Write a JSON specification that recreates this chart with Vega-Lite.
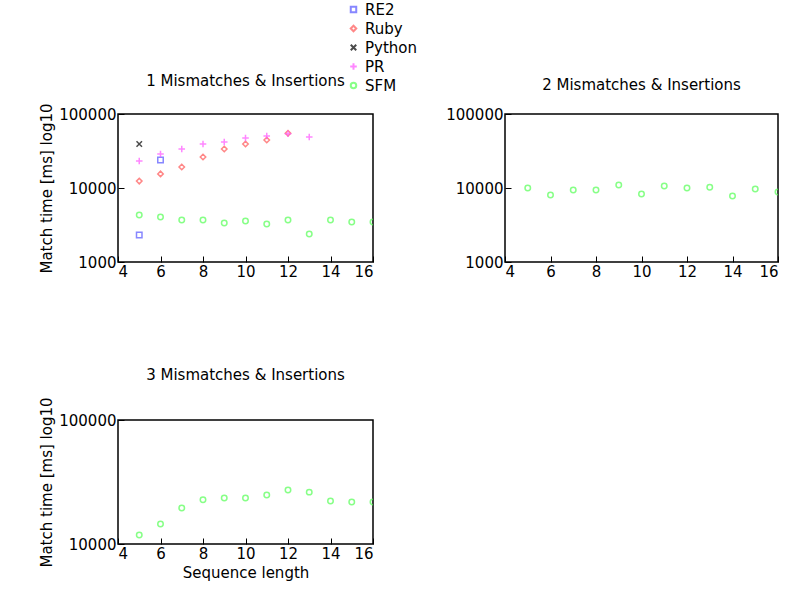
{
  "$schema": "https://vega.github.io/schema/vega-lite/v6.json",
  "background": "white",
  "padding": {"top": 2, "left": 38, "right": 5, "bottom": 5},
  "config": {
    "font": "DejaVu Sans",
    "view": {"stroke": "black", "strokeWidth": 1.5},
    "axis": {"grid": false, "labelFontSize": 15, "titleFontSize": 15, "titleFontWeight": "normal", "labelColor": "black", "titleColor": "black", "tickColor": "black", "domain": false, "tickSize": -6, "labelPadding": 8},
    "title": {"fontSize": 15, "fontWeight": "normal", "offset": 14},
    "legend": {"orient": "none", "legendX": 228, "legendY": -112, "labelFontSize": 15, "symbolSize": 30, "rowPadding": 3, "symbolStrokeWidth": 2, "labelColor": "black"}
  },
  "datasets": {
    "pts": [
      {"panel": 1, "tool": "RE2", "len": 5, "ms": 2320},
      {"panel": 1, "tool": "RE2", "len": 6, "ms": 23900},
      {"panel": 1, "tool": "Ruby", "len": 5, "ms": 12400},
      {"panel": 1, "tool": "Ruby", "len": 6, "ms": 15500},
      {"panel": 1, "tool": "Ruby", "len": 7, "ms": 19200},
      {"panel": 1, "tool": "Ruby", "len": 8, "ms": 26200},
      {"panel": 1, "tool": "Ruby", "len": 9, "ms": 33700},
      {"panel": 1, "tool": "Ruby", "len": 10, "ms": 39400},
      {"panel": 1, "tool": "Ruby", "len": 11, "ms": 44600},
      {"panel": 1, "tool": "Ruby", "len": 12, "ms": 55000},
      {"panel": 1, "tool": "Python", "len": 5, "ms": 39400},
      {"panel": 1, "tool": "PR", "len": 5, "ms": 23200},
      {"panel": 1, "tool": "PR", "len": 6, "ms": 28800},
      {"panel": 1, "tool": "PR", "len": 7, "ms": 33700},
      {"panel": 1, "tool": "PR", "len": 8, "ms": 39400},
      {"panel": 1, "tool": "PR", "len": 9, "ms": 41900},
      {"panel": 1, "tool": "PR", "len": 10, "ms": 47500},
      {"panel": 1, "tool": "PR", "len": 11, "ms": 50400},
      {"panel": 1, "tool": "PR", "len": 12, "ms": 54000},
      {"panel": 1, "tool": "PR", "len": 13, "ms": 48800},
      {"panel": 1, "tool": "SFM", "len": 5, "ms": 4320},
      {"panel": 1, "tool": "SFM", "len": 6, "ms": 4060},
      {"panel": 1, "tool": "SFM", "len": 7, "ms": 3700},
      {"panel": 1, "tool": "SFM", "len": 8, "ms": 3700},
      {"panel": 1, "tool": "SFM", "len": 9, "ms": 3370},
      {"panel": 1, "tool": "SFM", "len": 10, "ms": 3580},
      {"panel": 1, "tool": "SFM", "len": 11, "ms": 3260},
      {"panel": 1, "tool": "SFM", "len": 12, "ms": 3700},
      {"panel": 1, "tool": "SFM", "len": 13, "ms": 2390},
      {"panel": 1, "tool": "SFM", "len": 14, "ms": 3700},
      {"panel": 1, "tool": "SFM", "len": 15, "ms": 3470},
      {"panel": 1, "tool": "SFM", "len": 16, "ms": 3470},
      {"panel": 2, "tool": "SFM", "len": 5, "ms": 10000},
      {"panel": 2, "tool": "SFM", "len": 6, "ms": 8040},
      {"panel": 2, "tool": "SFM", "len": 7, "ms": 9390},
      {"panel": 2, "tool": "SFM", "len": 8, "ms": 9390},
      {"panel": 2, "tool": "SFM", "len": 9, "ms": 10990},
      {"panel": 2, "tool": "SFM", "len": 10, "ms": 8300},
      {"panel": 2, "tool": "SFM", "len": 11, "ms": 10630},
      {"panel": 2, "tool": "SFM", "len": 12, "ms": 10000},
      {"panel": 2, "tool": "SFM", "len": 13, "ms": 10230},
      {"panel": 2, "tool": "SFM", "len": 14, "ms": 7800},
      {"panel": 2, "tool": "SFM", "len": 15, "ms": 9700},
      {"panel": 2, "tool": "SFM", "len": 16, "ms": 8830},
      {"panel": 3, "tool": "SFM", "len": 5, "ms": 11800},
      {"panel": 3, "tool": "SFM", "len": 6, "ms": 14500},
      {"panel": 3, "tool": "SFM", "len": 7, "ms": 19500},
      {"panel": 3, "tool": "SFM", "len": 8, "ms": 22700},
      {"panel": 3, "tool": "SFM", "len": 9, "ms": 23500},
      {"panel": 3, "tool": "SFM", "len": 10, "ms": 23500},
      {"panel": 3, "tool": "SFM", "len": 11, "ms": 24800},
      {"panel": 3, "tool": "SFM", "len": 12, "ms": 27300},
      {"panel": 3, "tool": "SFM", "len": 13, "ms": 26200},
      {"panel": 3, "tool": "SFM", "len": 14, "ms": 22200},
      {"panel": 3, "tool": "SFM", "len": 15, "ms": 21800},
      {"panel": 3, "tool": "SFM", "len": 16, "ms": 21800}
    ]
  },
  "data": {"name": "pts"},
  "resolve": {"scale": {"color": "shared", "shape": "shared"}},
  "spacing": 87,
  "vconcat": [
    {
      "spacing": 69,
      "hconcat": [
        {
          "title": "1 Mismatches & Insertions",
          "width": 255, "height": 148,
          "transform": [{"filter": "datum.panel == 1"}],
          "mark": {"type": "point", "filled": false, "strokeWidth": 1.5, "size": 30, "clip": true},
          "encoding": {
            "x": {"field": "len", "type": "quantitative", "scale": {"domain": [4, 16], "nice": false}, "axis": {"values": [4, 6, 8, 10, 12, 14, 16], "title": null}},
            "y": {"field": "ms", "type": "quantitative", "scale": {"type": "log", "domain": [1000, 100000]}, "axis": {"values": [1000, 10000, 100000], "title": "Match time [ms] log10", "format": "d"}},
            "color": {"field": "tool", "type": "nominal", "title": null, "scale": {"domain": ["RE2", "Ruby", "Python", "PR", "SFM"], "range": ["#5555ff", "#ff5555", "#000000", "#ff55ff", "#55ff55"]}},
            "shape": {"field": "tool", "type": "nominal", "title": null, "scale": {"domain": ["RE2", "Ruby", "Python", "PR", "SFM"], "range": ["square", "diamond", "M-1,-1L1,1M-1,1L1,-1", "M-1.2,0L1.2,0M0,-1.2L0,1.2", "circle"]}}
          }
        },
        {
          "title": "2 Mismatches & Insertions",
          "width": 273, "height": 148,
          "transform": [{"filter": "datum.panel == 2"}],
          "mark": {"type": "point", "filled": false, "strokeWidth": 1.5, "size": 30, "clip": true},
          "encoding": {
            "x": {"field": "len", "type": "quantitative", "scale": {"domain": [4, 16], "nice": false}, "axis": {"values": [4, 6, 8, 10, 12, 14, 16], "title": null}},
            "y": {"field": "ms", "type": "quantitative", "scale": {"type": "log", "domain": [1000, 100000]}, "axis": {"values": [1000, 10000, 100000], "title": null, "format": "d"}},
            "color": {"field": "tool", "type": "nominal"},
            "shape": {"field": "tool", "type": "nominal"}
          }
        }
      ]
    },
    {
      "title": "3 Mismatches & Insertions",
      "width": 255, "height": 124,
      "transform": [{"filter": "datum.panel == 3"}],
      "mark": {"type": "point", "filled": false, "strokeWidth": 1.5, "size": 30, "clip": true},
      "encoding": {
        "x": {"field": "len", "type": "quantitative", "scale": {"domain": [4, 16], "nice": false}, "axis": {"values": [4, 6, 8, 10, 12, 14, 16], "title": "Sequence length"}},
        "y": {"field": "ms", "type": "quantitative", "scale": {"type": "log", "domain": [10000, 100000]}, "axis": {"values": [10000, 100000], "title": "Match time [ms] log10", "format": "d"}},
        "color": {"field": "tool", "type": "nominal"},
        "shape": {"field": "tool", "type": "nominal"}
      }
    }
  ]
}
